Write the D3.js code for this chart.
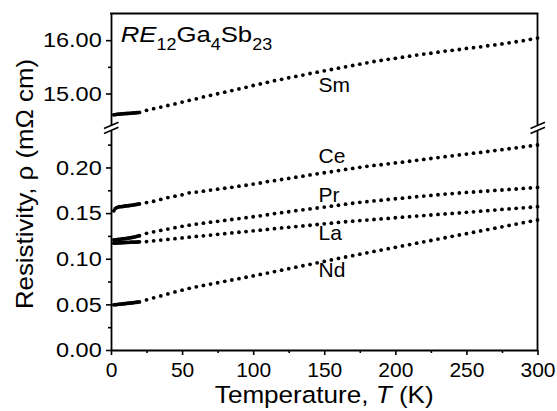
<!DOCTYPE html>
<html>
<head>
<meta charset="utf-8">
<script src="https://cdn.jsdelivr.net/npm/d3@7"></script>
<style>
  html, body { margin: 0; padding: 0; background: #fff; }
  svg { display: block; }
  text { font-family: "Liberation Sans", Arial, Helvetica, sans-serif; fill: #000; }
</style>
</head>
<body>
<svg id="chart" width="557" height="411"></svg>
<script>
// Temperature grid (K): dense below 20 K, every 5 K above
const TEMPS = [2,3,4,5,6,7,8,9,10,11,12,13,14,15,16,17,18,19,20,
  25,30,35,40,45,50,55,60,65,70,75,80,85,90,95,100,105,110,115,120,125,130,135,140,145,150,
  155,160,165,170,175,180,185,190,195,200,205,210,215,220,225,230,235,240,245,250,
  255,260,265,270,275,280,285,290,295,300];

// Resistivity (mΩ cm) for each rare-earth compound
const SM = [14.600,14.605,14.610,14.612,14.615,14.617,14.619,14.621,14.623,14.625,14.627,14.629,14.631,14.633,14.635,14.637,14.640,14.643,14.646,
  14.685,14.715,14.745,14.775,14.805,14.840,14.870,14.900,14.935,14.965,14.995,15.025,15.055,15.085,15.115,15.150,15.180,15.210,15.240,15.265,15.295,15.320,15.345,15.375,15.400,15.425,
  15.450,15.475,15.500,15.525,15.550,15.575,15.600,15.620,15.640,15.660,15.680,15.700,15.720,15.740,15.755,15.775,15.795,15.810,15.825,15.845,
  15.860,15.875,15.895,15.910,15.930,15.950,15.970,15.990,16.015,16.040];

const CE = [0.1525,0.1550,0.1560,0.1565,0.1570,0.1570,0.1572,0.1575,0.1578,0.1580,0.1580,0.1583,0.1585,0.1587,0.1590,0.1592,0.1595,0.1598,0.1600,
  0.1615,0.1630,0.1650,0.1670,0.1685,0.1700,0.1722,0.1730,0.1740,0.1752,0.1762,0.1772,0.1782,0.1795,0.1805,0.1818,0.1830,0.1845,0.1855,0.1868,0.1880,0.1893,0.1905,0.1918,0.1930,0.1942,
  0.1953,0.1966,0.1978,0.1990,0.2002,0.2012,0.2022,0.2030,0.2040,0.2050,0.2058,0.2068,0.2078,0.2088,0.2098,0.2108,0.2118,0.2128,0.2137,0.2147,
  0.2157,0.2165,0.2175,0.2185,0.2195,0.2205,0.2215,0.2226,0.2236,0.2246];

const PR = [0.1205,0.1207,0.1209,0.1211,0.1213,0.1215,0.1217,0.1219,0.1221,0.1223,0.1225,0.1228,0.1231,0.1234,0.1237,0.1240,0.1244,0.1248,0.1252,
  0.1278,0.1295,0.1310,0.1325,0.1340,0.1355,0.1368,0.1380,0.1390,0.1400,0.1410,0.1420,0.1430,0.1440,0.1450,0.1460,0.1470,0.1482,0.1495,0.1505,0.1515,0.1526,0.1536,0.1546,0.1556,0.1566,
  0.1576,0.1586,0.1598,0.1608,0.1618,0.1625,0.1633,0.1641,0.1649,0.1657,0.1664,0.1672,0.1680,0.1687,0.1694,0.1701,0.1708,0.1714,0.1720,0.1726,
  0.1731,0.1737,0.1742,0.1748,0.1753,0.1759,0.1764,0.1770,0.1776,0.1781];

const LA = [0.1170,0.1171,0.1172,0.1173,0.1174,0.1175,0.1176,0.1177,0.1178,0.1179,0.1180,0.1180,0.1181,0.1182,0.1182,0.1183,0.1183,0.1184,0.1185,
  0.1188,0.1196,0.1204,0.1212,0.1220,0.1228,0.1236,0.1244,0.1251,0.1259,0.1267,0.1275,0.1283,0.1290,0.1298,0.1306,0.1313,0.1321,0.1329,0.1337,0.1344,0.1352,0.1360,0.1367,0.1375,0.1383,
  0.1390,0.1398,0.1405,0.1412,0.1418,0.1424,0.1430,0.1436,0.1442,0.1449,0.1455,0.1461,0.1467,0.1473,0.1479,0.1485,0.1491,0.1496,0.1502,0.1508,
  0.1514,0.1521,0.1527,0.1533,0.1540,0.1546,0.1552,0.1558,0.1564,0.1570];

const ND = [0.0495,0.0497,0.0498,0.0500,0.0502,0.0503,0.0505,0.0507,0.0508,0.0510,0.0512,0.0514,0.0515,0.0517,0.0519,0.0521,0.0523,0.0525,0.0527,
  0.0550,0.0572,0.0593,0.0614,0.0636,0.0656,0.0676,0.0692,0.0707,0.0722,0.0737,0.0752,0.0767,0.0782,0.0797,0.0812,0.0828,0.0843,0.0859,0.0875,0.0891,0.0907,0.0923,0.0939,0.0955,0.0971,
  0.0987,0.1003,0.1019,0.1034,0.1050,0.1065,0.1080,0.1095,0.1110,0.1125,0.1140,0.1155,0.1170,0.1185,0.1200,0.1215,0.1230,0.1245,0.1260,0.1275,
  0.1290,0.1305,0.1320,0.1335,0.1350,0.1365,0.1380,0.1395,0.1410,0.1425];

const SERIES_NAMES = ["Sm", "Ce", "Pr", "La", "Nd"];

// Tick values
const X_MAJOR = [0, 50, 100, 150, 200, 250, 300];
const X_MINOR = [25, 75, 125, 175, 225, 275];
const Y_UPPER_MAJOR = [15, 16];
const Y_UPPER_MINOR = [15.5];
const Y_LOWER_MAJOR = [0, 0.05, 0.10, 0.15, 0.20];
const Y_LOWER_MINOR = [0.025, 0.075, 0.125, 0.175, 0.225];

// ---- layout ----
const L = 111, R = 537.5, TOP = 13.5, BOT = 350;
const UPPER_END = 125.5, LOWER_END = 130.5;

const svg = d3.select("#chart");

const x = d3.scaleLinear().domain([0, 300]).range([L, R]);
const yUp = d3.scaleLinear().domain([14.4, 16.5]).range([UPPER_END, TOP]);
const yLo = d3.scaleLinear().domain([0, 0.2405]).range([BOT, LOWER_END]);

const LW = 1.8;

// ---- axes ----
function styleAxis(g) {
  g.selectAll("path.domain").attr("stroke", "#000").attr("stroke-width", LW);
  g.selectAll(".tick line").attr("stroke", "#000").attr("stroke-width", 1.6);
}

// bottom axis
const gx = svg.append("g").attr("transform", `translate(0,${BOT})`)
  .call(d3.axisBottom(x).tickValues(X_MAJOR).tickSize(5).tickSizeOuter(0).tickFormat(d3.format("d")));
styleAxis(gx);
gx.selectAll(".tick text").attr("y", 26.5).attr("dy", null)
  .style("font-size", "21px");
const gxm = svg.append("g").attr("transform", `translate(0,${BOT})`)
  .call(d3.axisBottom(x).tickValues(X_MINOR).tickSize(3).tickSizeOuter(0).tickFormat(""));
styleAxis(gxm);
gxm.select("path.domain").remove();

// left axis, upper (Sm) segment
const gyu = svg.append("g").attr("transform", `translate(${L},0)`)
  .call(d3.axisLeft(yUp).tickValues(Y_UPPER_MAJOR).tickSize(5).tickSizeOuter(0).tickFormat(d3.format(".2f")));
styleAxis(gyu);
const gyum = svg.append("g").attr("transform", `translate(${L},0)`)
  .call(d3.axisLeft(yUp).tickValues(Y_UPPER_MINOR).tickSize(3).tickSizeOuter(0).tickFormat(""));
styleAxis(gyum);
gyum.select("path.domain").remove();

// left axis, lower segment
const gyl = svg.append("g").attr("transform", `translate(${L},0)`)
  .call(d3.axisLeft(yLo).tickValues(Y_LOWER_MAJOR).tickSize(5).tickSizeOuter(0).tickFormat(d3.format(".2f")));
styleAxis(gyl);
const gylm = svg.append("g").attr("transform", `translate(${L},0)`)
  .call(d3.axisLeft(yLo).tickValues(Y_LOWER_MINOR).tickSize(3).tickSizeOuter(0).tickFormat(""));
styleAxis(gylm);
gylm.select("path.domain").remove();

[gyu, gyl].forEach(g => g.selectAll(".tick text")
  .attr("x", -8.3).attr("dy", "0.32em")
  .attr("transform", "scale(1.12,1)")
  .style("font-size", "21px"));

svg.selectAll(".tick text").attr("font-family", null);

// top and right frame lines (right side broken like the left axis)
svg.append("line").attr("x1", L - LW / 2).attr("x2", R + LW / 2).attr("y1", TOP).attr("y2", TOP)
  .attr("stroke", "#000").attr("stroke-width", LW);
svg.append("line").attr("x1", R).attr("x2", R).attr("y1", TOP).attr("y2", UPPER_END)
  .attr("stroke", "#000").attr("stroke-width", LW);
svg.append("line").attr("x1", R).attr("x2", R).attr("y1", LOWER_END).attr("y2", BOT + LW / 2)
  .attr("stroke", "#000").attr("stroke-width", LW);

// axis-break marks "//" on both sides
[L, R].forEach(xx => {
  [UPPER_END, LOWER_END].forEach(yy => {
    svg.append("line")
      .attr("x1", xx - 7).attr("y1", yy + 3)
      .attr("x2", xx + 7.5).attr("y2", yy - 3.3)
      .attr("stroke", "#000").attr("stroke-width", 1.5);
  });
});

// ---- data points ----
const lowerSeries = [CE, PR, LA, ND];
const R_DOT = 1.9;

svg.append("g").selectAll("circle")
  .data(TEMPS.map((t, i) => ({ t, v: SM[i] })))
  .join("circle")
  .attr("cx", d => x(d.t)).attr("cy", d => yUp(d.v)).attr("r", R_DOT).attr("fill", "#000");

lowerSeries.forEach(vals => {
  svg.append("g").selectAll("circle")
    .data(TEMPS.map((t, i) => ({ t, v: vals[i] })))
    .join("circle")
    .attr("cx", d => x(d.t)).attr("cy", d => yLo(d.v)).attr("r", R_DOT).attr("fill", "#000");
});

// ---- series labels ----
const LABEL_T = 146;
const labelAnchors = [
  { name: SERIES_NAMES[0], y: yUp(15.03) },
  { name: SERIES_NAMES[1], y: yLo(0.2045) },
  { name: SERIES_NAMES[2], y: yLo(0.1618) },
  { name: SERIES_NAMES[3], y: yLo(0.1201) },
  { name: SERIES_NAMES[4], y: yLo(0.0800) }
];
svg.append("g").selectAll("text")
  .data(labelAnchors)
  .join("text")
  .attr("x", x(LABEL_T)).attr("y", d => d.y)
  .style("font-size", "21px")
  .text(d => d.name);

// ---- compound formula ----
const formula = svg.append("text")
  .attr("transform", "translate(120.7,41.7) scale(1.12,1)")
  .style("font-size", "23px");
formula.append("tspan").style("font-style", "italic").text("RE");
formula.append("tspan").attr("dy", 8).style("font-size", "16px").text("12");
formula.append("tspan").attr("dy", -8).text("Ga");
formula.append("tspan").attr("dy", 8).style("font-size", "16px").text("4");
formula.append("tspan").attr("dy", -8).text("Sb");
formula.append("tspan").attr("dy", 8).style("font-size", "16px").text("23");

// ---- axis titles ----
const xt = svg.append("text")
  .attr("transform", `translate(${(L + R) / 2},403) scale(1.11,1)`)
  .attr("text-anchor", "middle")
  .style("font-size", "23.5px");
xt.append("tspan").text("Temperature, ");
xt.append("tspan").style("font-style", "italic").text("T");
xt.append("tspan").text(" (K)");

svg.append("text")
  .attr("transform", "translate(33,184) rotate(-90) scale(1.1,1)")
  .attr("text-anchor", "middle")
  .style("font-size", "23.5px")
  .text("Resistivity, ρ (mΩ cm)");
</script>
</body>
</html>
